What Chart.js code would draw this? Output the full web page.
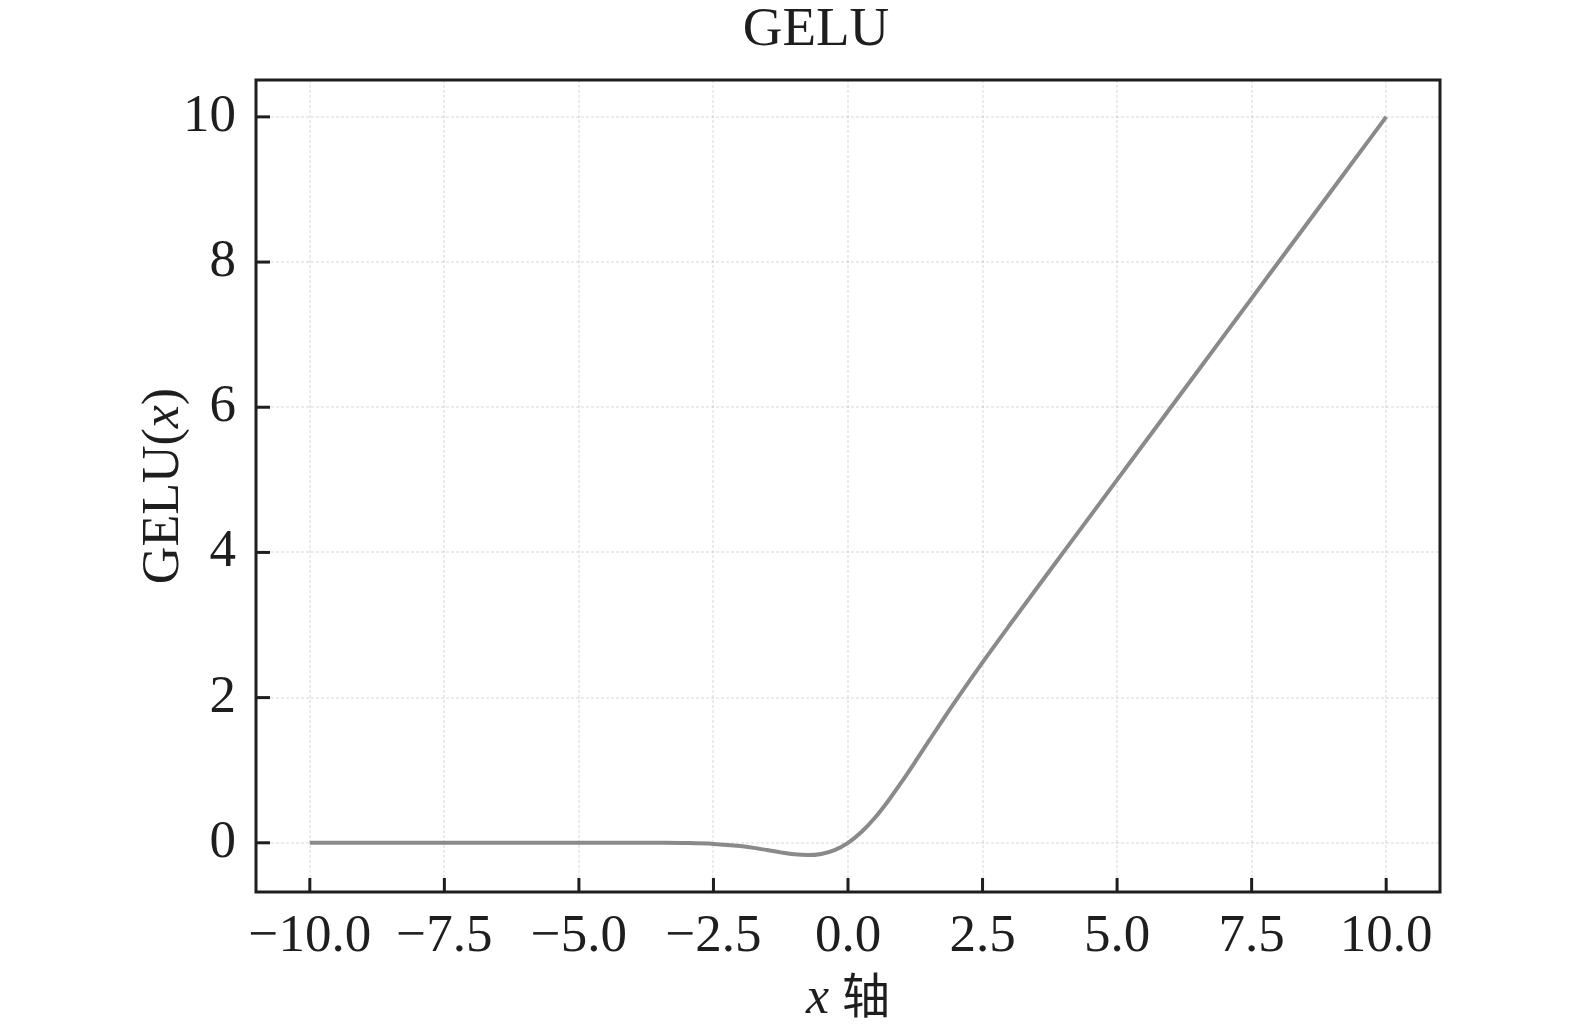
<!DOCTYPE html>
<html>
<head>
<meta charset="utf-8">
<script src="https://cdn.jsdelivr.net/npm/chart.js@4/dist/chart.umd.min.js"></script>
<style>
  html, body { margin: 0; padding: 0; background: #fff; }
  #wrap { width: 1575px; height: 1033px; }
</style>
</head>
<body>
<div id="wrap"><canvas id="myChart" width="1575" height="1033"></canvas></div>
<script>
// values
var xValues = [-10, -9.5, -9, -8.5, -8, -7.5, -7, -6.5, -6, -5.5, -5, -4.5, -4, -3.5, -3, -2.5, -2, -1.75, -1.5, -1.25, -1, -0.75, -0.5, -0.25,
	0, 0.25, 0.5, 0.75, 1, 1.25, 1.5, 1.75, 2, 2.5, 3, 3.5, 4, 4.5, 5, 5.5, 6, 6.5, 7, 7.5, 8, 8.5, 9, 9.5, 10];
var gelu = [0, 0, 0, 0, 0, 0, 0, 0, 0, 0, 0, 0, -0.0001, -0.0008, -0.004, -0.0155, -0.0455, -0.07, -0.1002, -0.132, -0.1587, -0.17, -0.1543, -0.1003,
	0, 0.1497, 0.3457, 0.58, 0.8413, 1.118, 1.3998, 1.68, 1.9545, 2.4845, 2.996, 3.4992, 4.0, 4.5, 5, 5.5, 6, 6.5, 7, 7.5, 8, 8.5, 9, 9.5, 10];
var xTicks = [-10, -7.5, -5, -2.5, 0, 2.5, 5, 7.5, 10];
var yTicks = [0, 2, 4, 6, 8, 10];

var serif = "'Liberation Serif', 'Times New Roman', serif";
var ink = '#1e1e1e';

var points = [];
for (var i = 0; i < xValues.length; i++) {
	points.push({x: xValues[i], y: gelu[i]});
}

function fmt(v, digits) {
	return v.toFixed(digits).replace('-', '\u2212');
}

// frame, inward ticks, title and axis labels
var decorations = {
	id: 'decorations',
	afterDraw: function(chart) {
		var ctx = chart.ctx;
		var a = chart.chartArea;
		var xs = chart.scales.x, ys = chart.scales.y;
		ctx.save();
		ctx.strokeStyle = ink;
		ctx.lineWidth = 3;
		xTicks.forEach(function(t) {
			var px = xs.getPixelForValue(t);
			ctx.beginPath(); ctx.moveTo(px, a.bottom); ctx.lineTo(px, a.bottom - 14); ctx.stroke();
		});
		yTicks.forEach(function(t) {
			var py = ys.getPixelForValue(t);
			ctx.beginPath(); ctx.moveTo(a.left, py); ctx.lineTo(a.left + 14, py); ctx.stroke();
		});
		ctx.strokeRect(a.left, a.top, a.right - a.left, a.bottom - a.top);

		ctx.fillStyle = ink;
		ctx.textBaseline = 'alphabetic';
		// title
		ctx.font = "55px " + serif;
		ctx.textAlign = 'center';
		ctx.fillText('GELU', 816, 45);

		// x label: italic x + 轴
		var cx = (a.left + a.right) / 2;
		ctx.font = "italic 52px " + serif;
		var w1 = ctx.measureText('x ').width;
		ctx.font = "48px 'Noto Sans CJK SC'";
		var w2 = ctx.measureText('轴').width;
		var start = cx - (w1 + w2) / 2;
		ctx.textAlign = 'left';
		ctx.font = "italic 52px " + serif;
		ctx.fillText('x', start, 1013);
		ctx.font = "48px 'Noto Sans CJK SC'";
		ctx.fillText('轴', start + w1, 1013);

		// y label: GELU(x), rotated
		ctx.translate(178, (a.top + a.bottom) / 2);
		ctx.rotate(-Math.PI / 2);
		var parts = [['GELU(', "52px " + serif], ['x', "italic 52px " + serif], [')', "52px " + serif]];
		var total = 0;
		parts.forEach(function(p) { ctx.font = p[1]; total += ctx.measureText(p[0]).width; });
		var pos = -total / 2;
		parts.forEach(function(p) {
			ctx.font = p[1];
			ctx.fillText(p[0], pos, 0);
			pos += ctx.measureText(p[0]).width;
		});
		ctx.restore();
	}
};

var ctx = document.getElementById('myChart').getContext('2d');
var myChart = new Chart(ctx, {
	type: 'line',
	data: {
		datasets: [{
			data: points,
			borderColor: '#8a8a8a',
			borderWidth: 4,
			pointRadius: 0,
			fill: false,
			cubicInterpolationMode: 'monotone'
		}]
	},
	options: {
		responsive: false,
		animation: false,
		layout: { padding: { top: 80, right: 135, left: 0, bottom: 0 } },
		plugins: {
			legend: { display: false },
			title: { display: false },
			tooltip: { enabled: false }
		},
		scales: {
			x: {
				type: 'linear',
				min: -11,
				max: 11,
				afterBuildTicks: function(scale) {
					scale.ticks = xTicks.map(function(v) { return {value: v}; });
				},
				afterFit: function(scale) { scale.height = 141; },
				ticks: {
					color: ink,
					font: { family: serif, size: 53 },
					padding: 13,
					maxRotation: 0,
					autoSkip: false,
					callback: function(v) { return fmt(v, 1); }
				},
				grid: { color: 'rgba(0,0,0,0.08)', lineWidth: 2, drawTicks: false },
				border: { display: false, dash: [3, 2] }
			},
			y: {
				type: 'linear',
				min: -0.678,
				max: 10.508,
				afterBuildTicks: function(scale) {
					scale.ticks = yTicks.map(function(v) { return {value: v}; });
				},
				afterFit: function(scale) { scale.width = 256; },
				ticks: {
					color: ink,
					font: { family: serif, size: 53 },
					padding: 20,
					autoSkip: false,
					callback: function(v) { return fmt(v, 0); }
				},
				grid: { color: 'rgba(0,0,0,0.08)', lineWidth: 2, drawTicks: false },
				border: { display: false, dash: [3, 2] }
			}
		}
	},
	plugins: [decorations]
});
</script>
</body>
</html>
